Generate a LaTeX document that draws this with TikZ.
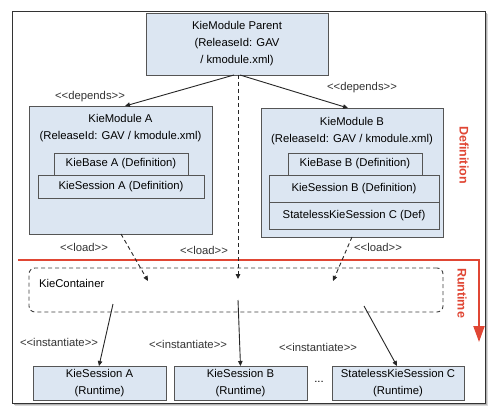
\documentclass[tikz,border=0pt]{standalone}
\usepackage{fontspec}
\setmainfont{Liberation Sans}
\usetikzlibrary{arrows.meta}
\definecolor{boxfill}{RGB}{220,230,242}
\definecolor{boxline}{RGB}{85,85,85}
\definecolor{redline}{RGB}{224,70,52}
\begin{document}
\begin{tikzpicture}[x=1pt,y=-1pt,
  every node/.style={font=\fontsize{11.3}{17}\selectfont, inner sep=0pt, outer sep=0pt},
  box/.style={draw=boxline, fill=boxfill, line width=0.9pt, align=center},
  lbl/.style={text=black!80},
  dep/.style={draw=black!85, line width=0.9pt, -{Triangle[length=5pt,width=4.5pt]}},
  ld/.style={draw=black!85, line width=0.9pt, dash pattern=on 4pt off 3pt, -{Triangle[length=5pt,width=4.5pt]}},
  side/.style={text=redline, font=\fontsize{12.5}{14}\selectfont\bfseries, rotate=-90}]
\useasboundingbox (0,0) rectangle (494,409);
% frame with shadow
\fill[black!15] (15,14) rectangle (488,406);
\fill[black!30] (14,13) rectangle (486.5,404.5);
\draw[fill=white, draw=black!80, line width=0.8pt] (12,11) rectangle (485,403);

% parent
\node[box, minimum width=182pt, minimum height=62pt] (parent) at (237,44) {KieModule Parent\\(ReleaseId: GAV\\/ kmodule.xml)};

% module A
\node[box, minimum width=183pt, minimum height=128pt, anchor=north west] (modA) at (29,106) {};
\node (modAt) at (120.5,128) [align=center] {KieModule A\\(ReleaseId: GAV / kmodule.xml)};
\node[box, minimum width=134pt, minimum height=22pt] (kbA) at (121,164) {KieBase A (Definition)};
\node[box, minimum width=166pt, minimum height=23pt] (ksA) at (121,186.5) {KieSession A (Definition)};

% module B
\node[box, minimum width=182pt, minimum height=129pt, anchor=north west] (modB) at (261,108) {};
\node (modBt) at (352,131) [align=center] {KieModule B\\(ReleaseId: GAV / kmodule.xml)};
\node[box, minimum width=134pt, minimum height=22pt] (kbB) at (355,164) {KieBase B (Definition)};
\node[box, minimum width=170pt, minimum height=27pt] (ksB) at (354,188.5) {KieSession B (Definition)};
\node[box, minimum width=170pt, minimum height=27pt] (slC) at (354,215.5) {StatelessKieSession C (Def)};

% container
\node[draw=black!75, line width=0.9pt, dash pattern=on 4pt off 3pt, rounded corners=6pt,
      minimum width=414pt, minimum height=44pt, anchor=north west] (cont) at (29,268) {};
\node[anchor=west] (contt) at (39,283) {KieContainer};

% runtime boxes
\node[box, minimum width=133pt, minimum height=34pt] (rA) at (99.5,383) {KieSession A\\(Runtime)};
\node[box, minimum width=133pt, minimum height=34pt] (rB) at (240.5,383) {KieSession B\\(Runtime)};
\node[box, minimum width=132pt, minimum height=34pt] (rC) at (398,383) {StatelessKieSession C\\(Runtime)};
\node (dots) at (319,382) {...};

% red divider
\coordinate (redL) at (18,260);
\coordinate (redC) at (479,260);
\coordinate (redE) at (479,342);
\draw[redline, line width=2pt, -{Triangle[length=16pt,width=11pt]}] (redL) -- (redC) -- (redE);
\node[side] (defn) at (464,155) {Definition};
\node[side] (rtm) at (462,293) {Runtime};

% depends
\coordinate (dA) at (125,106);
\coordinate (dB) at (348,108);
\draw[dep] (parent.south) ++(-3,0) coordinate (pA) -- (dA);
\draw[dep] (parent.south) ++(3,0) coordinate (pB) -- (dB);
\node[lbl] (depA) at (90,97) {<{}<depends>{}>};
\node[lbl] (depB) at (362,88) {<{}<depends>{}>};

% load
\coordinate (lA0) at (121,234);
\coordinate (lA1) at (148,281);
\coordinate (lM1) at (238,279);
\coordinate (lB0) at (352,237);
\coordinate (lB1) at (333,281);
\draw[ld] (lA0) -- (lA1);
\draw[ld] (parent.south) ++(1,0) coordinate (pM) -- (lM1);
\draw[ld] (lB0) -- (lB1);
\node[lbl] (ldA) at (84,247) {<{}<load>{}>};
\node[lbl] (ldM) at (204,250) {<{}<load>{}>};
\node[lbl] (ldB) at (378,247) {<{}<load>{}>};

% instantiate
\coordinate (iA) at (113,304);
\coordinate (iM) at (238,300);
\coordinate (iC) at (364,306);
\draw[dep] (iA) -- (rA.north -| 99,0);
\draw[dep] (iM) -- (rB.north);
\draw[dep] (iC) -- (rC.north -| 397,0);
\node[lbl] (inA) at (59,342) {<{}<instantiate>{}>};
\node[lbl] (inM) at (188,344) {<{}<instantiate>{}>};
\node[lbl] (inC) at (318,347) {<{}<instantiate>{}>};
\end{tikzpicture}
\end{document}
